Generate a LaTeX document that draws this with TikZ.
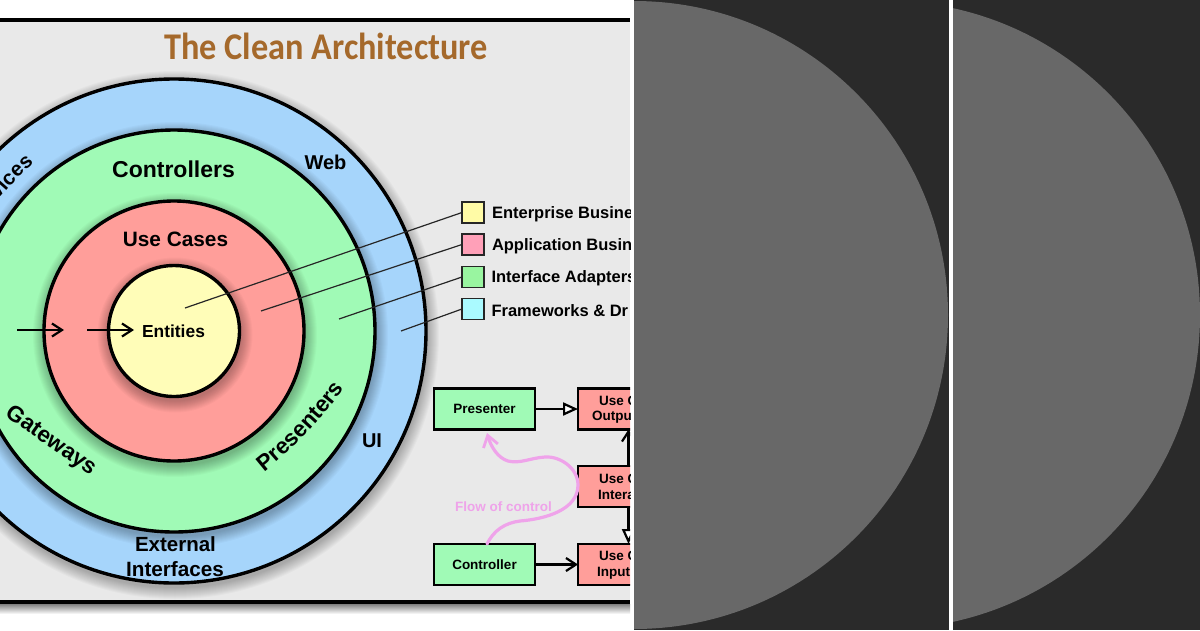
\documentclass[tikz,border=0pt]{standalone}
\usepackage{fontspec}
\setmainfont{Liberation Sans}
\newfontfamily\titlefont{Carlito}
\usetikzlibrary{arrows.meta,decorations.text}
\definecolor{panelgray}{HTML}{E9E9E9}
\definecolor{ringblue}{HTML}{A6D5FB}
\definecolor{ringgreen}{HTML}{A0FAB6}
\definecolor{ringred}{HTML}{FF9E9A}
\definecolor{ringyellow}{HTML}{FFFDB8}
\definecolor{legyellow}{HTML}{FFFBA6}
\definecolor{legpink}{HTML}{FFA0B8}
\definecolor{leggreen}{HTML}{99F5A0}
\definecolor{legcyan}{HTML}{AAFAFF}
\definecolor{titlebrown}{HTML}{A5692B}
\definecolor{flowpink}{HTML}{EFA3EA}
\definecolor{darkbg}{HTML}{2A2A2A}
\definecolor{disc}{HTML}{686868}
\newcommand{\px}[1]{\fontsize{#1}{#1}\selectfont\bfseries}
\newcommand{\softshadow}[1]{\foreach \k in {1,...,12}{\fill[black,opacity=.025] (174+1,331+4) circle[radius=#1+\k];}}
\tikzset{
  ring/.style={circle,draw=black,line width=3.4pt,minimum size=#1,inner sep=0pt,outer sep=0pt},
  lab/.style={inner sep=0pt,outer sep=0pt,text=black,font=\px{#1}},
  partlab/.style={inner sep=0pt,outer sep=0pt,anchor=west,text=black,font=\px{13.5}},
  legbox/.style={draw=black!85,line width=1.5pt,minimum width=22pt,minimum height=21pt,inner sep=0pt,outer sep=0pt},
  leader/.style={draw=black!85,line width=1.2pt},
  flowbox/.style={draw=black,line width=2.4pt,minimum width=101pt,minimum height=41pt,inner sep=0pt,outer sep=0pt},
  conn/.style={draw=black,line width=2.2pt},
  barb/.style={-{Straight Barb[length=10pt,width=13pt,line width=2.2pt]}},
  opentip/.style={-{Triangle[open,fill=white,length=15pt,width=13pt,line width=2.2pt]}},
  flowline/.style={draw=flowpink,line width=3.2pt,line cap=round},
}
\begin{document}
\begin{tikzpicture}[x=1pt,y=-1pt]
\useasboundingbox (0,0) rectangle (1200,630);
\fill[white] (0,0) rectangle (1200,630);
% ---- left panel
\begin{scope}
\clip (0,0) rectangle (630,630);
\shade[top color=black!50,bottom color=white] (0,604) rectangle (630,614);
\fill[panelgray] (0,20) rectangle (630,602);
\draw[black,line width=4pt] (0,19.5) -- (630,19.5);
\draw[black,line width=4pt] (0,602) -- (630,602);
\node[inner sep=0pt,text=titlebrown,font=\titlefont\bfseries\fontsize{34.3}{34.3}\selectfont] (title) at (326,46) {\scalebox{1}[1.1]{The Clean Architecture}};
\softshadow{252}
\node[ring=504pt,fill=ringblue] (outer) at (174,331) {};
\softshadow{201}
\node[ring=402pt,fill=ringgreen] (green) at (174,331) {};
\softshadow{130}
\node[ring=260pt,fill=ringred] (red) at (174,331) {};
\softshadow{65.5}
\node[ring=131pt,fill=ringyellow] (yellow) at (174,331) {};
\node[lab=23] (controllers) at (173.5,169) {Controllers};
\node[lab=20.8] (usecases) at (175.5,239.5) {Use Cases};
\node[lab=17.4] (entities) at (173.5,331.5) {Entities};
\node[lab=20] (web) at (325.5,162) {Web};
\node[lab=20] (ui) at (372,441) {UI};
\node[lab=20.5] (external) at (175.5,544) {External};
\node[lab=20.7] (interfaces) at (175,569.5) {Interfaces};
\path[decorate,decoration={text along path,text align=left,text={|\px{20.5}|vices}}]
  (-2,200) .. controls (8,188) and (18,176) .. (42,157);
\path[decorate,decoration={text along path,text align=left,text={|\px{22.5}|Gateways}}]
  (5,415) .. controls (30,434) and (60,454) .. (98,480);
\path[decorate,decoration={text along path,text align=left,text={|\px{22.5}|Presenters}}]
  (264,472) .. controls (292,450) and (322,420) .. (352,378);
% arrows in the rings
\coordinate (a1) at (17,330);
\coordinate (a2) at (64,330);
\coordinate (a3) at (87,330);
\coordinate (a4) at (134,330);
\draw[conn,barb] (a1) -- (a2);
\draw[conn,barb] (a3) -- (a4);
% legend
\node[legbox,fill=legyellow] (l1) at (473,212.5) {};
\node[legbox,fill=legpink] (l2) at (473,244.5) {};
\node[legbox,fill=leggreen] (l3) at (473,277) {};
\node[legbox,fill=legcyan] (l4) at (473,309) {};
\node[lab=16.5,anchor=west] (t1) at (492,214) {Enterprise Busine};
\node[lab=16.5,anchor=west] (t2) at (492,246) {Application Busin};
\node[lab=16.5,anchor=west] (t3) at (491.5,278) {Interface Adapters};
\node[lab=16.5,anchor=west] (t4) at (491.5,310.5) {Frameworks \& Dr};
\coordinate (e1) at (185,308);
\coordinate (e2) at (261,311);
\coordinate (e3) at (339,319);
\coordinate (e4) at (401,331);
\draw[leader] (l1.west) -- (e1);
\draw[leader] (l2.west) -- (e2);
\draw[leader] (l3.west) -- (e3);
\draw[leader] (l4.west) -- (e4);
% flow boxes
\node[flowbox,fill=ringgreen,font=\px{13.5}] (presenter) at (484.5,409) {Presenter};
\node[flowbox,fill=ringgreen,font=\px{13.5}] (controller) at (484.5,564.5) {Controller};
\node[flowbox,fill=ringred] (output) at (628.5,409) {};
\node[flowbox,fill=ringred] (inter) at (628.5,486.5) {};
\node[flowbox,fill=ringred] (input) at (628.5,564.5) {};
\node[partlab] (o1) at (599,401) {Use C};
\node[partlab] (o2) at (592,417) {Outpu};
\node[partlab] (i1) at (599,479) {Use C};
\node[partlab] (i2) at (598,495) {Intera};
\node[partlab] (n1) at (599,556) {Use C};
\node[partlab] (n2) at (597,573) {Input};
\draw[conn,opentip] (presenter.east) -- (output.west);
\draw[conn,barb] (controller.east) -- (input.west);
\draw[conn,barb] (inter.north) -- (output.south);
\draw[conn,opentip] (inter.south) -- (input.north);
% flow of control
\coordinate (f0) at (487,544);
\coordinate (f1) at (487,433);
\draw[flowline,-{Straight Barb[length=11pt,width=15pt,line width=2.8pt]}]
  (f0) .. controls (494,530) and (505,523) .. (520,521)
  .. controls (545,519) and (578,510) .. (578,485)
  .. controls (578,468) and (560,456) .. (545,457)
  .. controls (530,458) and (520,464) .. (508,461)
  .. controls (498,458) and (491,447) .. (f1);
\node[inner sep=0pt,text=flowpink,font=\px{13.5}] (flow) at (503.5,507) {Flow of control};
\end{scope}
% ---- right panels
\begin{scope}
\clip (634,0) rectangle (949,630);
\fill[darkbg] (634,0) rectangle (949,630);
\node[circle,fill=disc,minimum size=628pt,inner sep=0pt,outer sep=0pt] (disc1) at (634,315) {};
\end{scope}
\begin{scope}
\clip (953,0) rectangle (1200,630);
\fill[darkbg] (953,0) rectangle (1200,630);
\node[circle,fill=disc,minimum size=628pt,inner sep=0pt,outer sep=0pt] (disc2) at (886,315) {};
\end{scope}
\end{tikzpicture}
\end{document}
